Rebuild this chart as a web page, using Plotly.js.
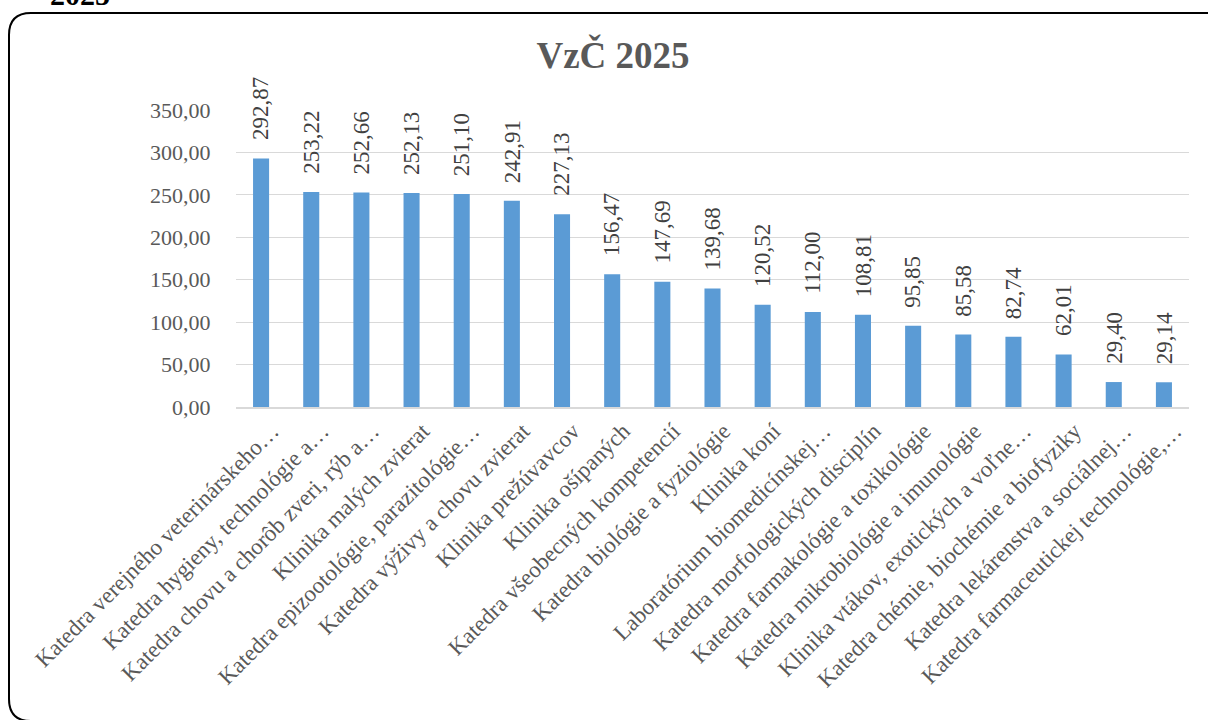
<!DOCTYPE html>
<html>
<head>
<meta charset="utf-8">
<script src="https://cdn.plot.ly/plotly-3.0.1.min.js"></script>
<style>html,body{margin:0;padding:0;background:#fff;}#chart{width:1208px;height:720px;}</style>
</head>
<body>
<div id="chart"></div>
<script>
const categories = [
  "Katedra verejného veterinárskeho…",
  "Katedra hygieny, technológie a…",
  "Katedra chovu a chorôb zveri, rýb a…",
  "Klinika malých zvierat",
  "Katedra epizootológie, parazitológie…",
  "Katedra výživy a chovu zvierat",
  "Klinika prežúvavcov",
  "Klinika ošípaných",
  "Katedra všeobecných kompetencií",
  "Katedra biológie a fyziológie",
  "Klinika koní",
  "Laboratórium biomedicínskej…",
  "Katedra morfologických disciplín",
  "Katedra farmakológie a toxikológie",
  "Katedra mikrobiológie a imunológie",
  "Klinika vtákov, exotických a voľne…",
  "Katedra chémie, biochémie a biofyziky",
  "Katedra lekárenstva a sociálnej…",
  "Katedra farmaceutickej technológie,…"
];
const values = [292.87, 253.22, 252.66, 252.13, 251.10, 242.91, 227.13, 156.47, 147.69, 139.68, 120.52, 112.00, 108.81, 95.85, 85.58, 82.74, 62.01, 29.40, 29.14];
const yTicks = [0, 50, 100, 150, 200, 250, 300, 350];
const titleText = "VzČ 2025";
const cornerText = "2025";

const fmt = v => v.toFixed(2).replace('.', ',');

// pixel -> paper helpers (plot area: x 236..1189, y 110..407)
const L = 236, R = 1189, T = 110, B = 407;
const xp = px => (px - L) / (R - L);
const yp = py => (B - py) / (B - T);

const border = (() => {
  const x0 = 9, y0 = 13, x1 = 1230, y1 = 721, r = 22;
  return 'M ' + xp(x1) + ',' + yp(y0) +
    ' L ' + xp(x0 + r) + ',' + yp(y0) +
    ' Q ' + xp(x0) + ',' + yp(y0) + ' ' + xp(x0) + ',' + yp(y0 + r) +
    ' L ' + xp(x0) + ',' + yp(y1 - r) +
    ' Q ' + xp(x0) + ',' + yp(y1) + ' ' + xp(x0 + r) + ',' + yp(y1) +
    ' L ' + xp(x1) + ',' + yp(y1);
})();

const serif = 'Liberation Serif, Times New Roman, serif';

const valueAnnotations = categories.map((c, i) => ({
  x: c, y: values[i], xref: 'x', yref: 'y',
  text: fmt(values[i]), textangle: -90, showarrow: false,
  xanchor: 'center', yanchor: 'bottom', yshift: 16,
  font: {family: serif, size: 23, color: '#404040'}
}));

const trace = {
  type: 'bar', x: categories, y: values,
  marker: {color: '#5B9BD5'}, width: 0.32,
  hoverinfo: 'x+y', cliponaxis: false
};

const layout = {
  width: 1208, height: 720,
  margin: {l: L, r: 1208 - R, t: T, b: 720 - B, pad: 0},
  paper_bgcolor: '#ffffff', plot_bgcolor: '#ffffff',
  separators: ', ',
  showlegend: false,
  title: {
    text: '<b>' + titleText + '</b>',
    font: {family: serif, size: 37, color: '#595959'},
    x: 613 / 1208, xanchor: 'center', xref: 'container',
    y: 1 - 55 / 720, yanchor: 'middle', yref: 'container'
  },
  xaxis: {
    type: 'category', tickangle: -45,
    tickfont: {family: serif, size: 23, color: '#595959'},
    showgrid: false, zeroline: false,
    showline: true, linecolor: '#D9D9D9', linewidth: 1.5,
    ticks: '', ticklabelshift: 11,
    automargin: false, fixedrange: true
  },
  yaxis: {
    range: [0, 350], tickvals: yTicks, tickformat: '.2f',
    tickfont: {family: serif, size: 22, color: '#595959'},
    showgrid: true, gridcolor: '#D9D9D9', gridwidth: 1,
    zeroline: false, showline: false,
    ticks: 'outside', ticklen: 20, tickcolor: 'rgba(0,0,0,0)',
    automargin: false, fixedrange: true
  },
  annotations: valueAnnotations.concat([{
    xref: 'paper', yref: 'paper', x: xp(48), y: yp(13), xanchor: 'left', yanchor: 'bottom',
    text: '<b>' + cornerText + '</b>', showarrow: false,
    font: {family: serif, size: 30, color: '#000000'}
  }]),
  shapes: [{
    type: 'path', xref: 'paper', yref: 'paper', path: border,
    line: {color: '#000000', width: 2}, fillcolor: 'rgba(0,0,0,0)', layer: 'above'
  }]
};

Plotly.newPlot('chart', [trace], layout, {displayModeBar: false, staticPlot: true});
</script>
</body>
</html>
